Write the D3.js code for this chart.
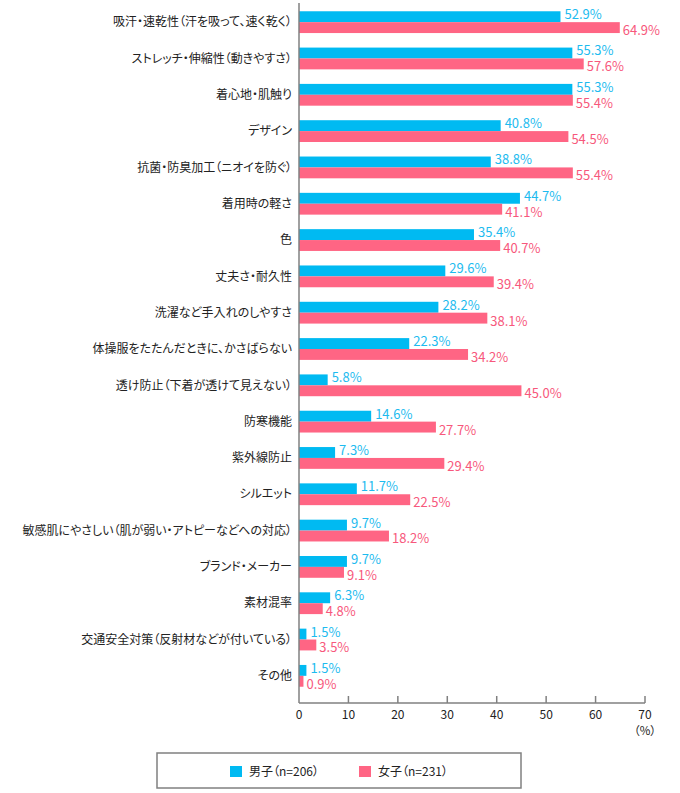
<!DOCTYPE html>
<html>
<head>
<meta charset="utf-8">
<script src="https://cdn.jsdelivr.net/npm/d3@7"></script>
<style>
  body { margin: 0; background: #fff; }
  svg { display: block; font-family: "Noto Sans CJK JP", "Noto Sans", sans-serif; }
  svg text { font-feature-settings: "palt"; }
</style>
</head>
<body>
<div id="chart"></div>
<script>
// categories and values (%)
const categories = [
  "吸汗・速乾性（汗を吸って、速く乾く）",
  "ストレッチ・伸縮性（動きやすさ）",
  "着心地・肌触り",
  "デザイン",
  "抗菌・防臭加工（ニオイを防ぐ）",
  "着用時の軽さ",
  "色",
  "丈夫さ・耐久性",
  "洗濯など手入れのしやすさ",
  "体操服をたたんだときに、かさばらない",
  "透け防止（下着が透けて見えない）",
  "防寒機能",
  "紫外線防止",
  "シルエット",
  "敏感肌にやさしい（肌が弱い・アトピーなどへの対応）",
  "ブランド・メーカー",
  "素材混率",
  "交通安全対策（反射材などが付いている）",
  "その他"
];
const boys = [52.9, 55.3, 55.3, 40.8, 38.8, 44.7, 35.4, 29.6, 28.2, 22.3, 5.8, 14.6, 7.3, 11.7, 9.7, 9.7, 6.3, 1.5, 1.5];
const girls = [64.9, 57.6, 55.4, 54.5, 55.4, 41.1, 40.7, 39.4, 38.1, 34.2, 45.0, 27.7, 29.4, 22.5, 18.2, 9.1, 4.8, 3.5, 0.9];
const seriesNames = ["男子（n=206）", "女子（n=231）"];
const ticks = [0, 10, 20, 30, 40, 50, 60, 70];

const colors = ["#00BAF2", "#FF6584"];
const labelColors = ["#1DBBEF", "#F7587C"];

const width = 680, height = 793;
const x0 = 299, x1 = 645, axisY = 703;

const svg = d3.select("#chart").append("svg")
  .attr("width", width).attr("height", height);

const x = d3.scaleLinear().domain([0, 70]).range([x0, x1]);
const y = d3.scaleBand().domain(categories).range([4, 694])
  .paddingInner(0.4).paddingOuter(0.2);
const sub = d3.scaleBand().domain([0, 1]).range([0, y.bandwidth()]);

// bars
const groups = svg.selectAll("g.cat")
  .data(categories)
  .enter().append("g")
  .attr("class", "cat")
  .attr("transform", d => `translate(0,${y(d)})`);

[boys, girls].forEach((vals, s) => {
  groups.append("rect")
    .attr("x", x0)
    .attr("y", sub(s))
    .attr("width", (d, i) => x(vals[i]) - x0)
    .attr("height", sub.bandwidth())
    .attr("fill", colors[s]);

  groups.append("text")
    .attr("x", (d, i) => x(vals[i]) + (s === 0 ? 4 : 3))
    .attr("y", s === 0 ? sub(s) + sub.bandwidth() - 3 : sub(s) + sub.bandwidth() + 2)
    .attr("fill", labelColors[s])
    .style("font-size", "13px")
    .text((d, i) => vals[i].toFixed(1) + "%");
});

// category labels
groups.append("text")
  .attr("x", 292)
  .attr("y", y.bandwidth() / 2)
  .attr("dy", "0.35em")
  .attr("text-anchor", "end")
  .attr("fill", "#222")
  .style("font-size", "12px")
  .text(d => d);

// axes
svg.append("line")
  .attr("x1", x0).attr("x2", x0).attr("y1", 3).attr("y2", axisY)
  .attr("stroke", "#808080").attr("stroke-width", 1.5);
svg.append("line")
  .attr("x1", x0).attr("x2", x1).attr("y1", axisY).attr("y2", axisY)
  .attr("stroke", "#808080").attr("stroke-width", 1.5);

svg.selectAll("line.tick")
  .data(ticks.slice(1))
  .enter().append("line")
  .attr("class", "tick")
  .attr("x1", d => x(d)).attr("x2", d => x(d))
  .attr("y1", axisY).attr("y2", axisY - 7)
  .attr("stroke", "#808080").attr("stroke-width", 1.5);

svg.selectAll("text.tl")
  .data(ticks)
  .enter().append("text")
  .attr("class", "tl")
  .attr("x", d => x(d))
  .attr("y", 719)
  .attr("text-anchor", "middle")
  .attr("fill", "#222")
  .style("font-size", "12px")
  .text(d => d);

svg.append("text")
  .attr("x", 645).attr("y", 735)
  .attr("text-anchor", "middle")
  .attr("fill", "#222")
  .style("font-size", "11.5px")
  .text("（%）");

// legend
svg.append("rect")
  .attr("x", 157).attr("y", 753).attr("width", 364).attr("height", 35)
  .attr("fill", "none").attr("stroke", "#808080").attr("stroke-width", 1.5);

const legendX = [230, 359];
seriesNames.forEach((name, s) => {
  svg.append("rect")
    .attr("x", legendX[s]).attr("y", 766).attr("width", 12).attr("height", 11)
    .attr("fill", colors[s]);
  svg.append("text")
    .attr("x", legendX[s] + 19).attr("y", 776)
    .attr("fill", "#222")
    .style("font-size", "12px")
    .text(name);
});
</script>
</body>
</html>
